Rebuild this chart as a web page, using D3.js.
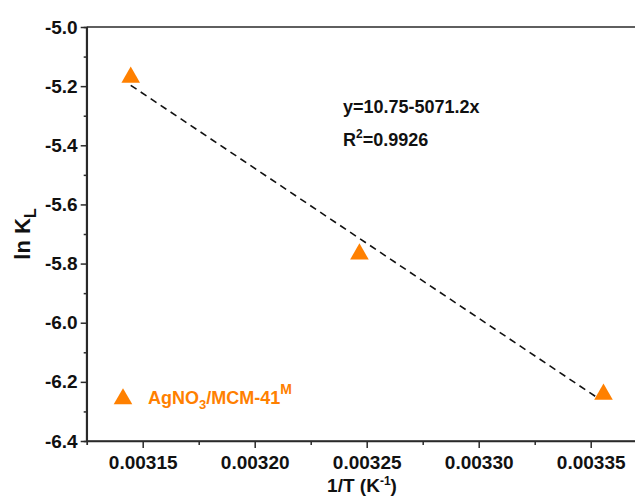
<!DOCTYPE html>
<html>
<head>
<meta charset="utf-8">
<script src="https://cdn.jsdelivr.net/npm/d3@7/dist/d3.min.js"></script>
<style>
  html, body { margin: 0; padding: 0; background: #fff; }
  svg { display: block; font-family: "Liberation Sans", Arial, sans-serif; font-weight: bold; }
</style>
</head>
<body>
<svg id="chart" width="635" height="497"></svg>
<script>
// Temperatures (K) and the measured ln K_L at each
const temps = [318, 308, 298];
const invT = temps.map(t => 1 / t);
const lnKL = [-5.170, -5.768, -6.242];

// Linear fit shown on the chart
const fitIntercept = 10.75;
const fitSlope = -5071.2;
const fitR2 = "0.9926";
const fitRange = [1 / 318, 0.003352];

const xTicks = [0.00315, 0.00320, 0.00325, 0.00330, 0.00335];
const xMinor = [0.003175, 0.003225, 0.003275, 0.003325];
const yTicks = [-5.0, -5.2, -5.4, -5.6, -5.8, -6.0, -6.2, -6.4];
const yMinor = [-5.1, -5.3, -5.5, -5.7, -5.9, -6.1, -6.3];

const orange = "#ff8000";
const axisColor = "#2a2a2a";
const textColor = "#111";
const fontFamily = "Liberation Sans, Arial, sans-serif";

const svg = d3.select("#chart");
const plotL = 86.7, plotT = 27, plotB = 441, plotR = 646.7;

const x = d3.scaleLinear().domain([0.003125, 0.003375]).range([plotL, plotR]);
const y = d3.scaleLinear().domain([-6.4, -5.0]).range([plotB, plotT]);

// Axes: major ticks with labels, minor ticks without
const gx = svg.append("g").attr("transform", `translate(0,${plotB})`);
gx.call(d3.axisBottom(x).tickValues(xTicks).tickSize(7).tickPadding(8)
  .tickFormat(d => d.toFixed(5)));
gx.append("g").call(d3.axisBottom(x).tickValues(xMinor).tickSize(4).tickFormat(""));

const gy = svg.append("g").attr("transform", `translate(${plotL},0)`);
gy.call(d3.axisLeft(y).tickValues(yTicks).tickSize(6).tickPadding(3)
  .tickFormat(d => d.toFixed(1)));
gy.append("g").call(d3.axisLeft(y).tickValues(yMinor).tickSize(3).tickFormat(""));

svg.selectAll(".domain").attr("stroke", axisColor).attr("stroke-width", 1.7);
gx.select(".domain").attr("d", `M${plotL},0H${plotR}`);
gy.select(".domain").attr("d", `M0,${plotB}V${plotT}`);
svg.selectAll(".tick line").attr("stroke", axisColor).attr("stroke-width", 1.5);
svg.selectAll(".tick text").attr("font-size", 19).attr("font-weight", "bold")
  .attr("font-family", fontFamily).attr("fill", textColor);

// Top frame line
svg.append("line")
  .attr("x1", x.range()[0]).attr("x2", x.range()[1])
  .attr("y1", y(-5.0)).attr("y2", y(-5.0))
  .attr("stroke", axisColor).attr("stroke-width", 1.7);

// Fitted line
svg.append("path")
  .datum(fitRange)
  .attr("d", d3.line().x(d => x(d)).y(d => y(fitIntercept + fitSlope * d)))
  .attr("fill", "none").attr("stroke", textColor).attr("stroke-width", 1.6)
  .attr("stroke-dasharray", "7,5");

// Markers
const tri = d3.symbol().type(d3.symbolTriangle).size(150);
svg.selectAll(".pt").data(invT).join("path")
  .attr("class", "pt")
  .attr("transform", (d, i) => `translate(${x(d)},${y(lnKL[i])})`)
  .attr("d", tri).attr("fill", orange);

// Fit annotation
svg.append("text").attr("x", 343).attr("y", 113).attr("font-size", 18)
  .attr("fill", textColor).text(`y=${fitIntercept}${fitSlope}x`);
const r2 = svg.append("text").attr("x", 343).attr("y", 146).attr("font-size", 18).attr("fill", textColor);
r2.append("tspan").text("R");
r2.append("tspan").attr("font-size", 12).attr("dy", -8).text("2");
r2.append("tspan").attr("dy", 8).text("=" + fitR2);

// Legend
svg.append("path").attr("transform", "translate(123,399)").attr("d", tri).attr("fill", orange);
const lg = svg.append("text").attr("x", 148).attr("y", 404).attr("font-size", 18).attr("fill", orange);
lg.append("tspan").text("AgNO");
lg.append("tspan").attr("font-size", 13).attr("dy", 5).text("3");
lg.append("tspan").attr("dy", -5).text("/MCM-41");
lg.append("tspan").attr("font-size", 14).attr("dy", -10).text("M");

// Axis titles
const xt = svg.append("text").attr("x", 362).attr("y", 492).attr("text-anchor", "middle")
  .attr("font-size", 19).attr("fill", textColor);
xt.append("tspan").text("1/T (K");
xt.append("tspan").attr("font-size", 12).attr("dy", -7).text("-1");
xt.append("tspan").attr("dy", 7).text(")");

const yt = svg.append("text").attr("transform", "translate(30,234) rotate(-90)")
  .attr("text-anchor", "middle").attr("font-size", 22).attr("fill", textColor);
yt.append("tspan").text("ln K");
yt.append("tspan").attr("font-size", 16).attr("dy", 6).text("L");
</script>
</body>
</html>
